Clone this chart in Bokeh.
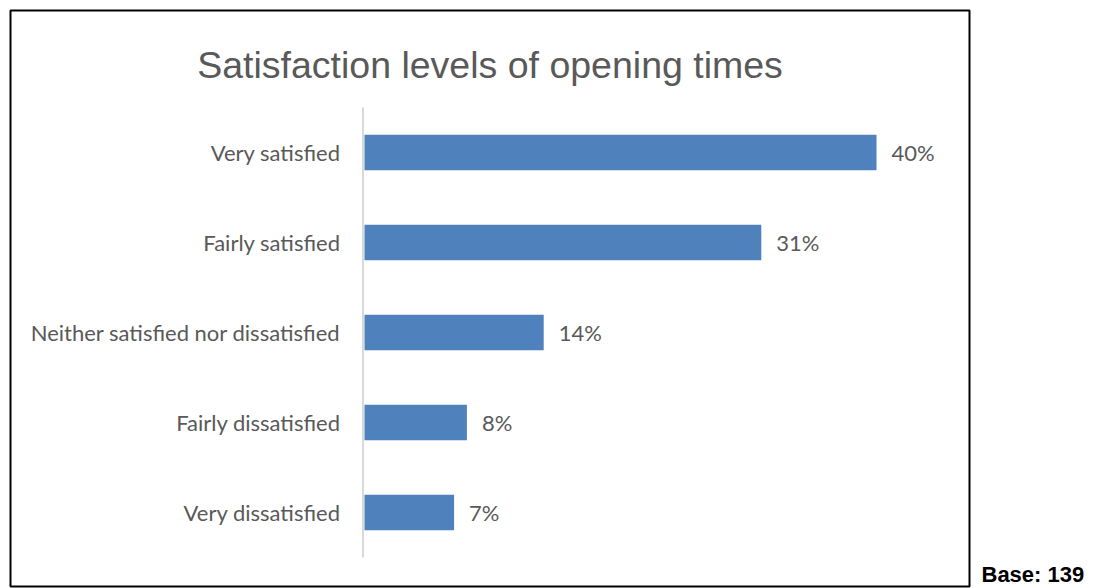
from bokeh.plotting import figure
from bokeh.models import Range1d, Label, ColumnDataSource
from bokeh.layouts import row
from bokeh.embed import file_html
from bokeh.resources import INLINE
from bokeh.core.properties import value

# ---- data ----
categories = ["Very satisfied", "Fairly satisfied", "Neither satisfied nor dissatisfied",
              "Fairly dissatisfied", "Very dissatisfied"]
percentages = [40, 31, 14, 8, 7]
value_labels = [f"{v}%" for v in percentages]
title_text = "Satisfaction levels of opening times"
base_text = "Base: 139"

# ---- layout constants (pixels) ----
W, H = 971, 588
B_LEFT, B_TOP, B_RIGHT, B_BOTTOM = 10, 10, 2, 2
frame_w = W - B_LEFT - B_RIGHT
frame_h = H - B_TOP - B_BOTTOM
px_per_unit = 12.8      # pixels per percent
zero_px = 354           # x=0 offset from frame left
row_px = 90             # pixels per category row
first_row_px = 142      # first row centre from frame top

x_start = -zero_px / px_per_unit
x_end = (frame_w - zero_px) / px_per_unit
y_top = -first_row_px / row_px
y_bottom = (frame_h - first_row_px) / row_px

TEXT_GREY = "#595959"
BAR_BLUE = "#4F81BD"

positions = list(range(len(categories)))
src = ColumnDataSource(dict(pos=positions, cat=categories, pct=percentages, lbl=value_labels))

p = figure(width=W, height=H, x_range=Range1d(x_start, x_end), y_range=Range1d(y_bottom, y_top),
           output_backend="svg", toolbar_location=None,
           x_axis_location=None, y_axis_location=None,
           min_border_left=B_LEFT, min_border_right=B_RIGHT,
           min_border_top=B_TOP, min_border_bottom=B_BOTTOM)
p.grid.visible = False
p.outline_line_color = "black"
p.outline_line_width = 2
p.background_fill_color = "white"
p.border_fill_color = "white"

# vertical axis line
p.segment(x0=-1.5 / px_per_unit, y0=-0.5, x1=-1.5 / px_per_unit, y1=len(categories) - 0.5,
          line_color="#D9D9D9", line_width=2)

p.hbar(y="pos", right="pct", left=0, height=0.395, source=src,
       fill_color=BAR_BLUE, line_color=None)

p.text(x=0, y="pos", text="cat", source=src, x_offset=-24,
       text_align="right", text_baseline="middle",
       text_font=value("Lato"), text_font_size="22px", text_color=TEXT_GREY)

p.text(x="pct", y="pos", text="lbl", source=src, x_offset=15,
       text_align="left", text_baseline="middle",
       text_font=value("Lato"), text_font_size="22px", text_color=TEXT_GREY)

p.add_layout(Label(x=frame_w / 2, y=frame_h - 54, x_units="screen", y_units="screen",
                   text=title_text, text_align="center", text_baseline="alphabetic",
                   text_font="Liberation Sans", text_font_size="37.5px", text_color=TEXT_GREY))

p2 = figure(width=132, height=H, x_range=Range1d(0, 1), y_range=Range1d(0, 1),
            output_backend="svg", toolbar_location=None,
            x_axis_location=None, y_axis_location=None, min_border=0)
p2.grid.visible = False
p2.outline_line_color = None
p2.add_layout(Label(x=10, y=12, x_units="screen", y_units="screen",
                    text=base_text, text_align="left", text_baseline="alphabetic",
                    text_font="Liberation Sans", text_font_style="bold",
                    text_font_size="22px", text_color="black"))

layout = row(p, p2, spacing=0)
open("out.html", "w").write(file_html(layout, INLINE))
